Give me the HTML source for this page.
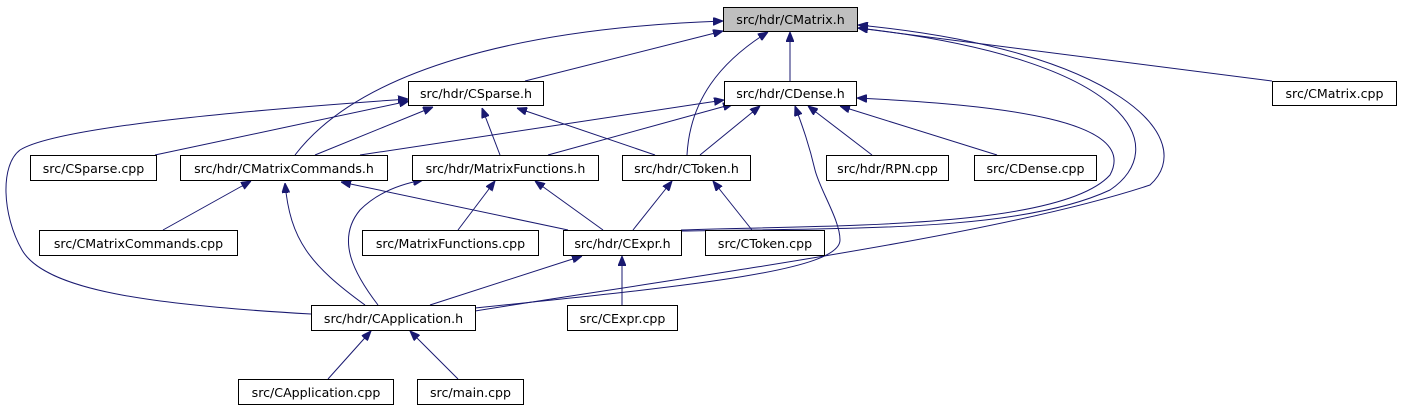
<!DOCTYPE html>
<html><head><meta charset="utf-8"><style>
html,body{margin:0;padding:0;background:#fff;}
svg{display:block;}
text{font-family:"DejaVu Sans","Liberation Sans",sans-serif;font-size:12.6px;fill:#000;}
</style></head><body>
<svg width="1401" height="411" viewBox="0 0 1401 411" xmlns="http://www.w3.org/2000/svg">
<defs>
<marker id="a" viewBox="0 0 10 8" refX="10" refY="4" markerWidth="10" markerHeight="8" markerUnits="userSpaceOnUse" orient="auto">
<path d="M0,0 L10,4 L0,8 z" fill="#191970" stroke="#191970"/>
</marker>
</defs>
<g fill="none" stroke="#191970" stroke-width="1" marker-end="url(#a)">
<path d="M525,81 L723,31"/>
<path d="M295,155 C360,70 520,28 723,21"/>
<path d="M687,155 C690,100 720,62 768,32"/>
<path d="M790,81 L790,32"/>
<path d="M1272,81 L858,28"/>
<path d="M681,231 C850,228 1020,232 1110,190 C1170,150 1140,60 858,28"/>
<path d="M475,311 C700,275 1000,235 1150,185 C1200,140 1120,50 858,25"/>
<path d="M360,155 L724,100"/>
<path d="M548,155 L733,104"/>
<path d="M700,155 L760,106"/>
<path d="M872,155 L808,106"/>
<path d="M997,155 L840,106"/>
<path d="M681,230 C820,225 1060,230 1110,175 C1140,120 1000,105 857,98"/>
<path d="M475,308 C700,285 840,270 840,240 C840,220 820,190 815,170 C808,140 800,120 795,106"/>
<path d="M155,155 L409,101"/>
<path d="M315,155 L433,107"/>
<path d="M500,155 L482,108"/>
<path d="M655,155 L517,108"/>
<path d="M311,314 C150,305 45,290 22,250 C2,215 0,165 20,150 C60,125 280,108 408,99"/>
<path d="M163,230 L251,181"/>
<path d="M365,305 C310,265 290,240 285,183"/>
<path d="M568,230 L341,182"/>
<path d="M458,230 L495,181"/>
<path d="M603,230 L535,181"/>
<path d="M378,305 C355,275 335,240 360,210 C375,195 395,185 423,180"/>
<path d="M633,230 L672,181"/>
<path d="M752,230 L713,181"/>
<path d="M430,305 L582,256"/>
<path d="M622,305 L622,256"/>
<path d="M328,379 L371,331"/>
<path d="M458,379 L410,331"/>
</g>
<g stroke="#000" stroke-width="1">
<rect x="723.5" y="7.5" width="134" height="24" fill="#bfbfbf"/>
<rect x="408.5" y="81.5" width="135" height="24" fill="#fff"/>
<rect x="724.5" y="81.5" width="132" height="24" fill="#fff"/>
<rect x="1272.5" y="81.5" width="124" height="24" fill="#fff"/>
<rect x="30.5" y="155.5" width="126" height="25" fill="#fff"/>
<rect x="180.5" y="155.5" width="207" height="25" fill="#fff"/>
<rect x="412.5" y="155.5" width="186" height="25" fill="#fff"/>
<rect x="622.5" y="155.5" width="128" height="25" fill="#fff"/>
<rect x="826.5" y="155.5" width="122" height="25" fill="#fff"/>
<rect x="974.5" y="155.5" width="122" height="25" fill="#fff"/>
<rect x="39.5" y="230.5" width="198" height="25" fill="#fff"/>
<rect x="362.5" y="230.5" width="176" height="25" fill="#fff"/>
<rect x="563.5" y="230.5" width="118" height="25" fill="#fff"/>
<rect x="705.5" y="230.5" width="119" height="25" fill="#fff"/>
<rect x="311.5" y="305.5" width="164" height="25" fill="#fff"/>
<rect x="567.5" y="305.5" width="110" height="25" fill="#fff"/>
<rect x="238.5" y="379.5" width="155" height="25" fill="#fff"/>
<rect x="417.5" y="379.5" width="106" height="25" fill="#fff"/>
</g>
<g text-anchor="middle">
<text x="790.5" y="24">src/hdr/CMatrix.h</text>
<text x="476" y="98">src/hdr/CSparse.h</text>
<text x="790.5" y="98">src/hdr/CDense.h</text>
<text x="1334.5" y="98">src/CMatrix.cpp</text>
<text x="93.5" y="173">src/CSparse.cpp</text>
<text x="284" y="173">src/hdr/CMatrixCommands.h</text>
<text x="505.5" y="173">src/hdr/MatrixFunctions.h</text>
<text x="686.5" y="173">src/hdr/CToken.h</text>
<text x="887.5" y="173">src/hdr/RPN.cpp</text>
<text x="1035.5" y="173">src/CDense.cpp</text>
<text x="138.5" y="248">src/CMatrixCommands.cpp</text>
<text x="450.5" y="248">src/MatrixFunctions.cpp</text>
<text x="622.5" y="248">src/hdr/CExpr.h</text>
<text x="765" y="248">src/CToken.cpp</text>
<text x="393.5" y="323">src/hdr/CApplication.h</text>
<text x="622.5" y="323">src/CExpr.cpp</text>
<text x="316" y="397">src/CApplication.cpp</text>
<text x="470.5" y="397">src/main.cpp</text>
</g>
</svg>
</body></html>
